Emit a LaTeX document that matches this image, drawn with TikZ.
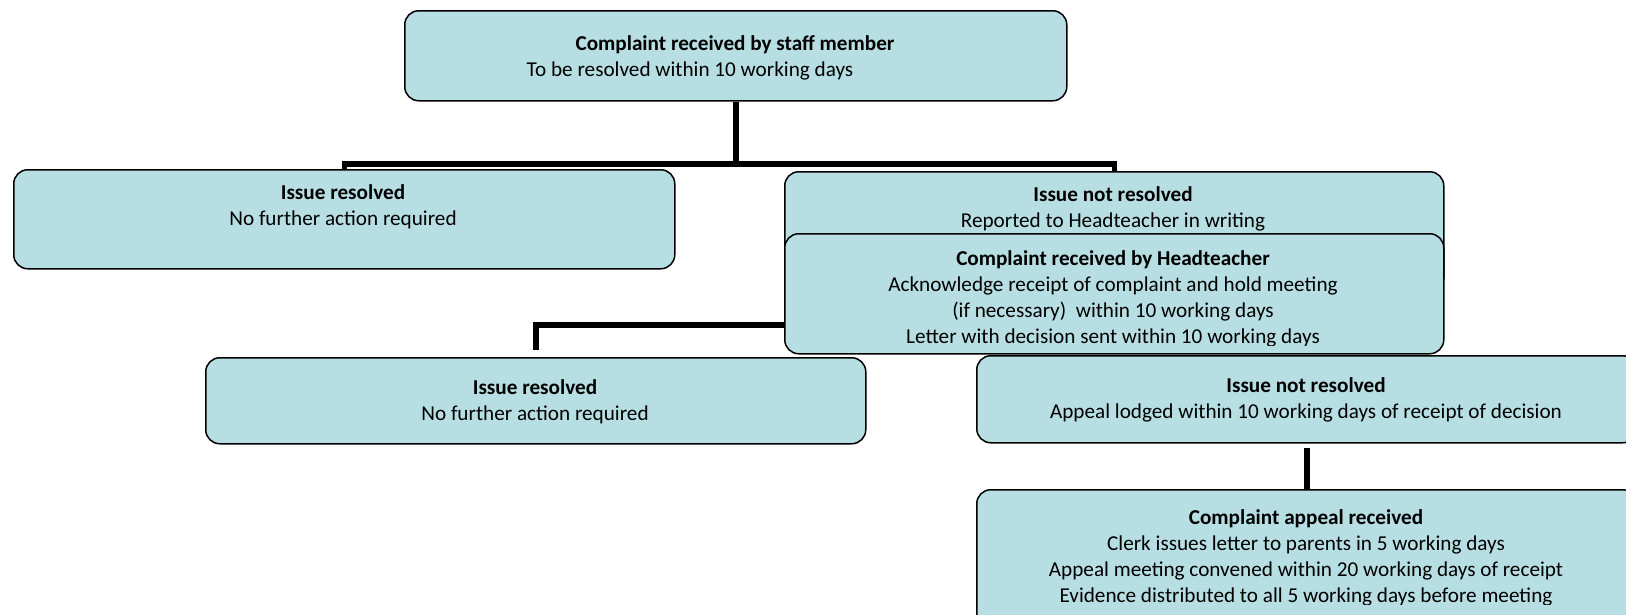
\documentclass[tikz,border=0pt]{standalone}
\usepackage{fontspec}
\setmainfont{Carlito}
\usetikzlibrary{calc,backgrounds}
\definecolor{boxfill}{RGB}{183,223,227}
\begin{document}
\begin{tikzpicture}[x=1pt,y=-1pt,
  box/.style={draw=black, line width=1.5pt, fill=boxfill, rounded corners=14pt, inner sep=0pt, anchor=north west},
  txt/.style={align=center, anchor=base, font=\fontsize{21.2}{26}\selectfont, inner sep=0pt},
  conn/.style={draw=black, line width=5.5pt, line join=miter}]
\useasboundingbox (0,0) rectangle (1626,614);
\clip (0,0) rectangle (1626,614);

% boxes and texts (text nodes anchored at the baseline of their last line)
\node[box, minimum width=662pt, minimum height=90pt] (top) at (404,10) {};
\node[txt] (t0a) at (735,50) {\bfseries Complaint received by staff member};
\node[txt] (t0b) at (690,76) {To be resolved within 10 working days};

\node[box, minimum width=661pt, minimum height=99pt] (b1) at (13,169) {};
\node[txt] (t1) at (343,225) {\textbf{Issue resolved}\\No further action required};

\node[box, minimum width=659pt, minimum height=120pt] (b2) at (784,171) {};
\node[txt] (t2) at (1113,227) {\textbf{Issue not resolved}\\Reported to Headteacher in writing};

\node[box, minimum width=659pt, minimum height=120pt] (ht) at (784,233) {};
\begin{scope}
\clip (784,233) rectangle (1443,345);
\node[txt] (t3) at (1113,343) {\textbf{Complaint received by Headteacher}\\Acknowledge receipt of complaint and hold meeting\\(if necessary)~ within 10 working days\\Letter with decision sent within 10 working days};
\end{scope}

\node[box, minimum width=660pt, minimum height=86pt] (b3) at (205,357) {};
\node[txt] (t4) at (535,420) {\textbf{Issue resolved}\\No further action required};

\node[box, minimum width=660pt, minimum height=87pt] (b4) at (976,355) {};
\node[txt] (t5) at (1306,418) {\textbf{Issue not resolved}\\Appeal lodged within 10 working days of receipt of decision};

\node[box, minimum width=660pt, minimum height=160pt] (ap) at (976,489) {};
\begin{scope}
\clip (976,489) rectangle (1636,604);
\node[txt] (t6) at (1306,602) {\textbf{Complaint appeal received}\\Clerk issues letter to parents in 5 working days\\Appeal meeting convened within 20 working days of receipt\\Evidence distributed to all 5 working days before meeting};
\end{scope}

% connectors
\coordinate (y1) at (0,164);
\coordinate (y2) at (0,325);
\begin{pgfonlayer}{background}
\draw[conn] (top.south) -- (top.south |- y1);
\draw[conn] (b1.north) |- (top.south |- y1) -| (b2.north);
\draw[conn] (ht.west |- y2) -| ($(b3.north)+(0,-7)$);
\draw[conn] ($(b4.south)+(0,4)$) -- (ap.north);
\end{pgfonlayer}
\end{tikzpicture}
\end{document}
